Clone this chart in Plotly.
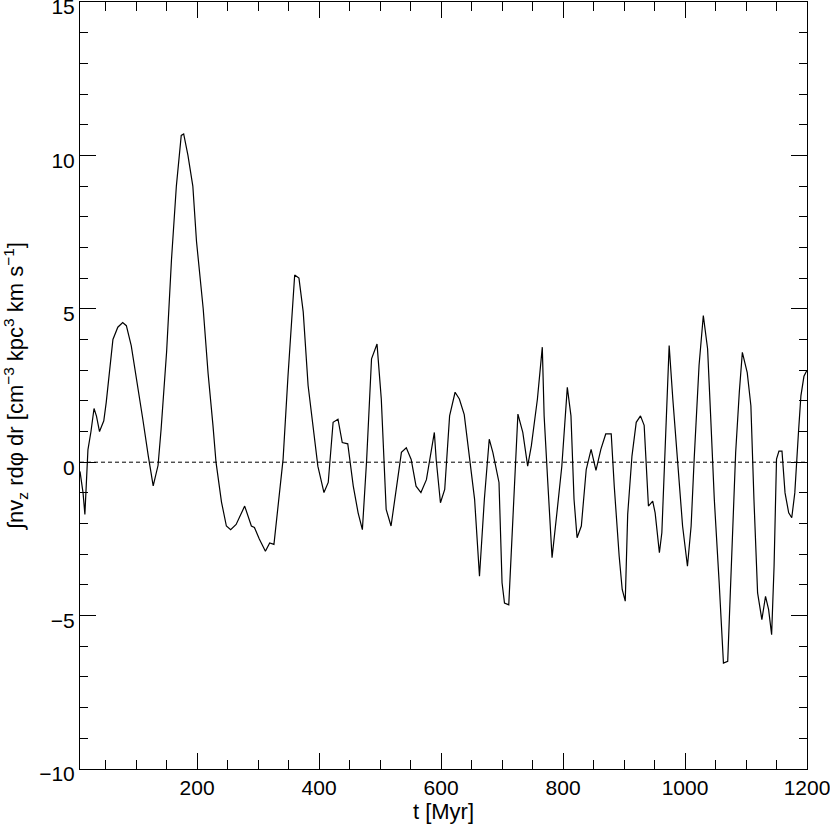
import plotly.graph_objects as go

# values
t_myr = [8, 13, 16, 21, 26, 31, 35, 40, 47, 51, 62, 70, 78, 84, 92, 102, 111, 120,
         128, 136, 141, 150, 158, 166, 174, 178, 185, 193, 199, 210, 218, 226, 231,
         240, 248, 255, 264, 278, 289, 294, 302, 312, 319, 326, 333, 341, 349, 360,
         367, 374, 382, 390, 398, 408, 415, 423, 431, 438, 447, 456, 464, 471, 478,
         486, 495, 502, 510, 518, 527, 535, 543, 551, 559, 567, 576, 584, 589, 592,
         599, 606, 614, 623, 630, 638, 647, 655, 663, 671, 679, 685, 695, 700, 704,
         711, 718, 726, 734, 742, 748, 758, 766, 769, 775, 782, 790, 798, 807, 813,
         818, 823, 830, 838, 846, 854, 862, 870, 879, 884, 892, 897, 902, 906, 913,
         920, 927, 933, 940, 947, 951, 958, 962, 969, 974, 980, 988, 996, 1004, 1010,
         1015, 1023, 1030, 1037, 1042, 1048, 1056, 1063, 1070, 1077, 1083, 1089, 1094,
         1102, 1108, 1113, 1119, 1126, 1132, 1137, 1142, 1146, 1150, 1154, 1159, 1164,
         1170, 1175, 1180, 1186, 1190, 1195, 1200]
flux = [-0.3, -1.0, -1.7, 0.4, 1.0, 1.75, 1.5, 1.0, 1.35, 1.95, 4.0, 4.4, 4.55, 4.45,
        3.8, 2.6, 1.4, 0.2, -0.77, -0.1, 1.08, 3.6, 6.6, 9.0, 10.65, 10.7, 10.0, 9.0,
        7.2, 5.0, 2.9, 1.2, 0.0, -1.3, -2.08, -2.2, -2.03, -1.43, -2.08, -2.13, -2.5,
        -2.9, -2.63, -2.68, -1.32, 0.1, 2.8, 6.1, 6.0, 4.9, 2.5, 1.2, -0.13, -0.99,
        -0.66, 1.3, 1.4, 0.64, 0.6, -0.77, -1.65, -2.2, 0.08, 3.37, 3.85, 2.06, -1.54,
        -2.08, -0.89, 0.32, 0.47, 0.09, -0.78, -0.99, -0.57, 0.41, 0.97, 0.09, -1.32,
        -0.89, 1.51, 2.28, 2.06, 1.55, 0.0, -1.21, -3.72, -1.21, 0.75, 0.31, -0.66,
        -3.93, -4.59, -4.65, -1.75, 1.57, 0.97, -0.13, 0.53, 2.06, 3.75, 1.51, -0.66,
        -3.11, -1.64, -0.13, 2.44, 1.51, -1.21, -2.46, -2.08, -0.24, 0.42, -0.27, 0.42,
        0.92, 0.92, -0.79, -3.06, -4.15, -4.53, -1.7, 0.2, 1.3, 1.51, 1.2, -1.43,
        -1.27, -1.65, -2.95, -2.3, 1.18, 3.8, 2.06, 0.09, -2.08, -3.39, -2.08, 0.1,
        3.15, 4.78, 3.7, 1.51, -1.21, -3.93, -6.55, -6.49, -2.84, 0.3, 2.28, 3.58,
        2.92, 1.84, -1.21, -4.26, -5.13, -4.37, -4.8, -5.62, -3.39, 0.1, 0.36, 0.36,
        -1.0, -1.65, -1.81, -1.0, 0.97, 2.16, 2.8, 3.0]

x_ticks = [200, 400, 600, 800, 1000, 1200]
y_ticks = [-10, -5, 0, 5, 10, 15]

TICK_FONT = dict(family="Liberation Sans", size=21, color="black")
TITLE_FONT = dict(family="Liberation Sans", size=22, color="black")

fig = go.Figure()

fig.add_trace(
    go.Scatter(
        x=t_myr,
        y=flux,
        mode="lines",
        line=dict(color="black", width=1.2),
        showlegend=False,
    )
)

# dotted zero line
fig.add_hline(y=0, line_dash="4px,3px", line_color="black", line_width=1)

axis_common = dict(
    showline=True,
    linecolor="black",
    linewidth=1,
    mirror="allticks",
    ticks="inside",
    ticklen=16,
    tickwidth=1,
    tickcolor="black",
    showgrid=False,
    zeroline=False,
    tickfont=TICK_FONT,
    automargin=False,
    ticklabeloverflow="allow",
)

fig.update_xaxes(
    range=[8, 1200],
    tickvals=x_ticks,
    minor=dict(dtick=50, tick0=0, ticks="inside", ticklen=9, tickcolor="black", showgrid=False),
    title=dict(text="t [Myr]", font=TITLE_FONT, standoff=0),
    **axis_common,
)
fig.update_yaxes(
    range=[-10, 15],
    tickvals=y_ticks,
    ticklabelshift=5,
    minor=dict(dtick=1, tick0=0, ticks="inside", ticklen=8, tickcolor="black", showgrid=False),
    title=dict(
        text="∫nv<sub>z</sub> rdφ dr [cm<sup>−3</sup> kpc<sup>3</sup> km s<sup>−1</sup>]",
        font=TITLE_FONT,
        standoff=9,
    ),
    **axis_common,
)

fig.update_layout(
    width=830,
    height=826,
    margin=dict(l=80, r=23, t=2, b=57),
    plot_bgcolor="white",
    paper_bgcolor="white",
)

# drop the browser's default body margin so the figure sits at the page corner
fig.write_html(
    "out.html",
    config={"displayModeBar": False},
    post_script="document.body.style.margin='0';",
)
